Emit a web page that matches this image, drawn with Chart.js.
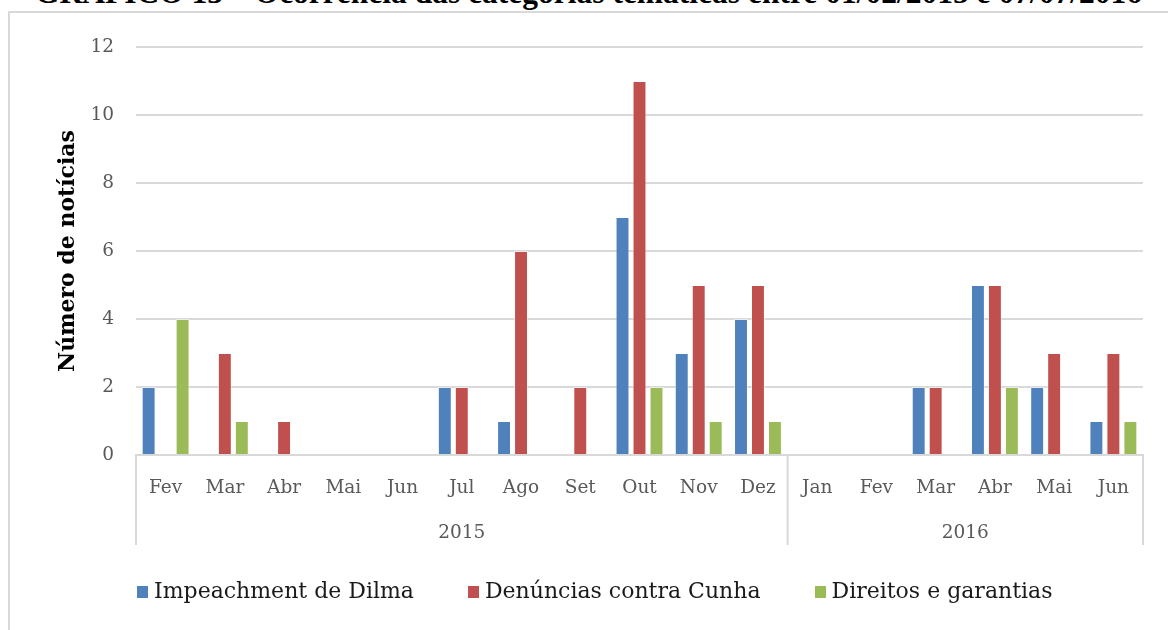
<!DOCTYPE html>
<html>
<head>
<meta charset="utf-8">
<script src="https://cdn.jsdelivr.net/npm/chart.js@4"></script>
<style>
    body{ margin:0; width:1168px; height:630px; overflow:hidden; background:#fff; position:relative; }
    #title{
        position:absolute; left:35px; top:-23px; white-space:nowrap;
        font-family:"Liberation Serif"; font-weight:bold; font-size:31.5px; line-height:31.5px; color:#000;
    }
    #frame{
        position:absolute; left:8px; top:11px; width:1200px; height:700px;
        border-left:2px solid #d9d9d9; border-top:2px solid #d9d9d9;
    }
    #chartBox{ position:absolute; left:0; top:0; width:1168px; height:630px; }
    #legend{
        position:absolute; left:137px; top:578px; display:flex;
        font-family:"DejaVu Serif"; font-size:22px; color:#1a1a1a;
    }
    .item{ display:flex; align-items:center; margin-right:54px; }
    .box{ width:11px; height:12px; margin-right:6px; margin-top:2px; }
</style>
</head>
<body>
<div id="title">GRÁFICO 13 – Ocorrência das categorias temáticas entre 01/02/2015 e 07/07/2016</div>
<div id="frame"></div>
<div id="chartBox"><canvas id="chart" width="1168" height="630"></canvas></div>
<div id="legend"></div>

<script>
// meses de fev/2015 a jun/2016
const months = ["Fev","Mar","Abr","Mai","Jun","Jul","Ago","Set","Out","Nov","Dez","Jan","Fev","Mar","Abr","Mai","Jun"];

// ano de cada grupo: primeiro índice e último índice
const years = [
    {label:"2015", from:0, to:10},
    {label:"2016", from:11, to:16}
];

const seriesNames = ["Impeachment de Dilma","Denúncias contra Cunha","Direitos e garantias"];
const seriesColors = ["#4f81bd","#c0504d","#9bbb59"];

const impeachment = [2,0,0,0,0,2,1,0,7,3,4,0,0,2,5,2,1];
const cunha       = [0,3,1,0,0,2,6,2,11,5,5,0,0,2,5,3,3];
const direitos    = [4,1,0,0,0,0,0,0,2,1,1,0,0,0,2,0,1];

const yTicks = [0,2,4,6,8,10,12];

const tickFont = {family:"DejaVu Serif", size:18.5};
const axisGray = "#d9d9d9";

// desenha a segunda linha do eixo X (anos) com as divisórias verticais
const yearRowPlugin = {
    id:"yearRow",
    afterDraw(chart){
        const x = chart.scales.x;
        const ctx = chart.ctx;
        const half = (x.getPixelForValue(1) - x.getPixelForValue(0)) / 2;
        const top = x.top;
        const bottom = top + 90;

        ctx.save();
        ctx.strokeStyle = axisGray;
        ctx.lineWidth = 2;
        ctx.fillStyle = "#595959";
        ctx.font = "18.5px 'DejaVu Serif'";
        ctx.textAlign = "center";
        ctx.textBaseline = "middle";

        years.forEach((y, i) => {
            const left = x.getPixelForValue(y.from) - half;
            const right = x.getPixelForValue(y.to) + half;

            ctx.beginPath();
            ctx.moveTo(left, top);
            ctx.lineTo(left, bottom);
            if(i === years.length - 1){
                ctx.moveTo(right, top);
                ctx.lineTo(right, bottom);
            }
            ctx.stroke();

            ctx.fillText(y.label, (left + right) / 2, top + 78);
        });

        ctx.restore();
    }
};

const datasets = [impeachment, cunha, direitos].map((values, i) => ({
    label: seriesNames[i],
    data: values,
    backgroundColor: seriesColors[i],
    borderColor: "rgba(255,255,255,0.45)",
    borderWidth: 1,
    barPercentage: 0.82,
    categoryPercentage: 0.86
}));

new Chart(document.getElementById("chart"), {
    type:"bar",
    data:{
        labels: months,
        datasets: datasets
    },
    options:{
        responsive:false,
        animation:false,
        events:[],
        layout:{
            padding:{left:55, top:47, right:25, bottom:75}
        },
        plugins:{
            legend:{display:false},
            tooltip:{enabled:false}
        },
        scales:{
            x:{
                grid:{display:false, drawTicks:false},
                border:{color:axisGray, width:2},
                ticks:{
                    color:"#595959",
                    font:tickFont,
                    padding:22,
                    maxRotation:0,
                    autoSkip:false
                },
                afterFit(scale){
                    scale.height = 100;
                }
            },
            y:{
                min:0,
                max:12,
                afterBuildTicks(scale){
                    scale.ticks = yTicks.map(v => ({value:v}));
                },
                grid:{color:axisGray, lineWidth:2, drawTicks:false},
                border:{display:false},
                ticks:{
                    color:"#595959",
                    font:tickFont,
                    padding:22
                },
                title:{
                    display:true,
                    text:"Número de notícias",
                    color:"#000",
                    font:{family:"DejaVu Serif", size:22, weight:"bold"},
                    padding:{top:0, bottom:0}
                },
                afterFit(scale){
                    scale.width = 136 - 55;
                }
            }
        }
    },
    plugins:[yearRowPlugin]
});

// legenda em HTML, construída a partir dos nomes e cores das séries
const legend = document.getElementById("legend");
seriesNames.forEach((name, i) => {
    const item = document.createElement("div");
    item.className = "item";
    item.innerHTML = `<span class="box" style="background:${seriesColors[i]}"></span><span>${name}</span>`;
    legend.appendChild(item);
});
</script>
</body>
</html>
